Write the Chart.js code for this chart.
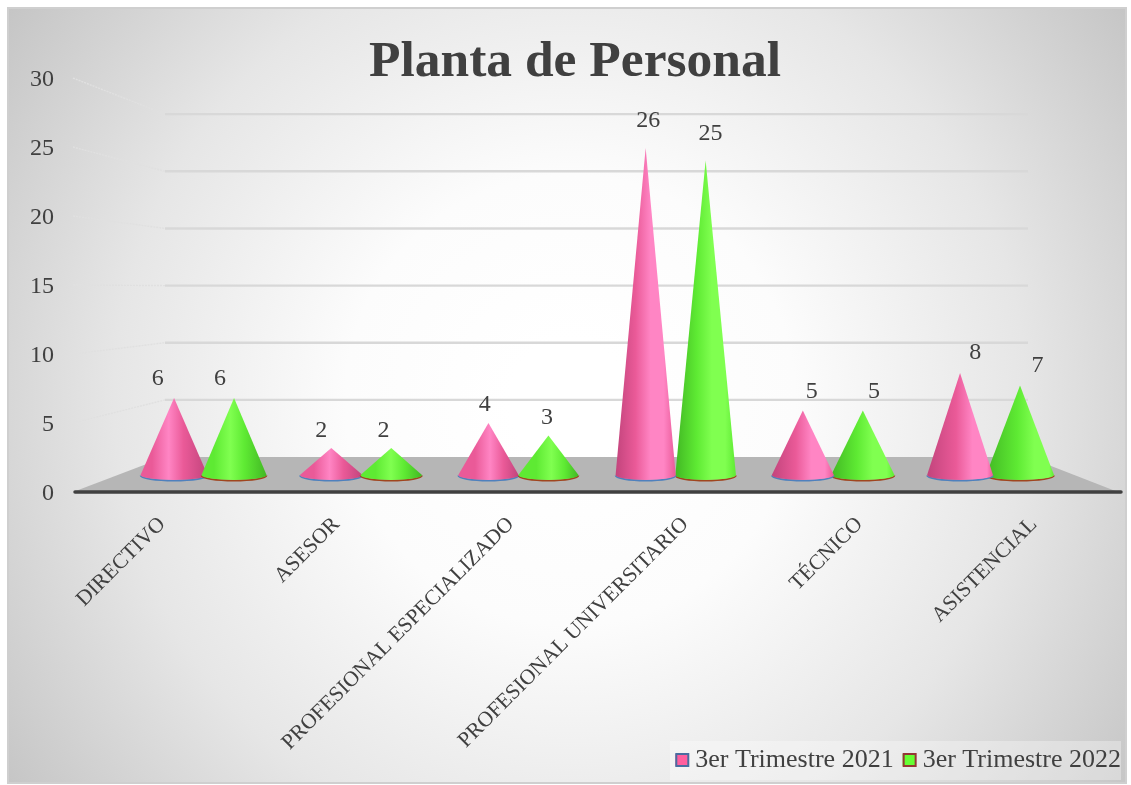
<!DOCTYPE html>
<html><head><meta charset="utf-8">
<style>html,body{margin:0;padding:0;background:#fff}canvas{display:block}</style>
<script src="https://cdn.jsdelivr.net/npm/chart.js@4"></script></head>
<body><canvas id="c" width="1131" height="785"></canvas>
<script>
const categories = ["DIRECTIVO","ASESOR","PROFESIONAL ESPECIALIZADO","PROFESIONAL UNIVERSITARIO","TÉCNICO","ASISTENCIAL"];
const serie2021 = [6,2,4,26,5,8];
const serie2022 = [6,2,3,25,5,7];
const seriesNames = ["3er Trimestre 2021","3er Trimestre 2022"];
const yTicks = [0,5,10,15,20,25,30];
const FONT = '"Liberation Serif"';
const TEXT = '#404040';
const pal = [
 {edge:'#ea5a98',hi:'#ff85c4',dark:'#c2447c',line:'#4f81bd',box:'#ff5f9e',boxLine:'#4a6da0'},
 {edge:'#5eea33',hi:'#80ff50',dark:'#42b824',line:'#a0451f',box:'#66ff33',boxLine:'#953735'}
];
const CX = 583;
const plug = {
 id:'scene',
 beforeDraw(ch){
  const c=ch.ctx; c.save();
  c.fillStyle='#fff'; c.fillRect(0,0,ch.width,ch.height);
  const g=c.createRadialGradient(570,400,60,570,400,720);
  g.addColorStop(0,'#ffffff'); g.addColorStop(.25,'#fcfcfc'); g.addColorStop(.6,'#e6e6e6'); g.addColorStop(1,'#c0c0c0');
  c.fillStyle=g; c.fillRect(8,8,1118,775);
  c.strokeStyle='#cfcfcf'; c.lineWidth=2; c.strokeRect(8,8,1118,775);
  const y=ch.scales.y, b=ch.scales.yBack, a=ch.chartArea;
  const bl=165, br=1028, L=a.left+1, R=a.right;
  yTicks.filter(t=>t>0).forEach(t=>{
    const fy=y.getPixelForValue(t), by=b.getPixelForValue(t);
    c.strokeStyle='#e0e0e0'; c.lineWidth=1.4; c.setLineDash([2,1]);
    c.beginPath(); c.moveTo(L,fy); c.lineTo(bl,by); c.stroke();
    c.setLineDash([]); c.strokeStyle='#d8d8d8'; c.lineWidth=2.4;
    c.beginPath(); c.moveTo(bl,by); c.lineTo(br,by); c.stroke();
  });
  const fy0=y.getPixelForValue(0), by0=b.getPixelForValue(0);
  c.fillStyle='#b6b6b6'; c.beginPath(); c.moveTo(L,fy0); c.lineTo(bl,by0); c.lineTo(br,by0); c.lineTo(R,fy0); c.closePath(); c.fill();
  c.strokeStyle='#404040'; c.lineWidth=3.5; c.lineCap='round';
  c.beginPath(); c.moveTo(L+2,fy0); c.lineTo(R+3,fy0); c.stroke();
  c.fillStyle='rgba(255,255,255,.32)'; c.fillRect(670,741,451,39);
  c.restore();
 },
 beforeDatasetsDraw(ch){
  const c=ch.ctx, items=[];
  ch.data.datasets.forEach((d,di)=>{
    ch.getDatasetMeta(di).data.forEach((el,i)=>items.push({el,di,v:d.data[i].y}));
  });
  items.sort((p,q)=>Math.abs(q.el.x-CX)-Math.abs(p.el.x-CX));
  items.forEach(({el,di,v})=>{
    const p=pal[di], rel=(el.x-CX)/410;
    const w=(el.width+7*rel*rel)/2, ry=5, by=el.base+2, tx=el.x, ty=el.y;
    c.save();
    c.strokeStyle=p.line; c.lineWidth=1.8;
    c.beginPath(); c.ellipse(tx,by+.6,w,ry,0,0,Math.PI); c.stroke();
    const g=c.createLinearGradient(tx-w,0,tx+w,0);
    const t=.56+.14*rel;
    g.addColorStop(0,rel>0?p.dark:p.edge);
    g.addColorStop(Math.max(.05,t-.25),p.edge);
    g.addColorStop(t,p.hi);
    g.addColorStop(Math.min(.95,t+.22),rel<0?p.edge:p.hi);
    g.addColorStop(1,rel<0?p.dark:p.edge);
    c.fillStyle=g;
    c.beginPath(); c.moveTo(tx,ty); c.lineTo(tx-w,by); c.ellipse(tx,by,w,ry,0,Math.PI,0,true); c.closePath(); c.fill();
    c.restore();
    c.save();
    c.fillStyle=TEXT; c.font='24px '+FONT; c.textAlign='center'; c.textBaseline='middle';
    c.fillText(v, tx+(tx-CX)*.04, ty-17-.4*v);
    c.restore();
  });
 },
 beforeDatasetDraw(){ return false; },
 afterDraw(ch){
  const c=ch.ctx; c.save();
  ch.legend.legendHitBoxes.forEach((h,i)=>{
    c.fillStyle=pal[i].box; c.strokeStyle=pal[i].boxLine; c.lineWidth=2;
    const cy=h.top+h.height/2;
    c.fillRect(h.left+1,cy-6,12,12); c.strokeRect(h.left+1,cy-6,12,12);
  });
  c.restore();
 }
};
const toPts = a => a.map((v,i)=>({x:i,y:v}));
new Chart(document.getElementById('c'),{
 type:'bar',
 data:{labels:categories,datasets:[
  {label:seriesNames[0],data:toPts(serie2021),backgroundColor:pal[0].box,borderColor:pal[0].boxLine,borderWidth:0,xAxisID:'xBars',yAxisID:'yCone'},
  {label:seriesNames[1],data:toPts(serie2022),backgroundColor:pal[1].box,borderColor:pal[1].boxLine,borderWidth:0,xAxisID:'xBars',yAxisID:'yCone'}
 ]},
 plugins:[plug],
 options:{
  responsive:false,animation:false,
  categoryPercentage:.9375,barPercentage:1,
  layout:{padding:{left:20,right:1,top:0,bottom:2}},
  plugins:{
   tooltip:{enabled:false},
   title:{display:true,text:'Planta de Personal',color:TEXT,font:{family:FONT,size:51.5,weight:'bold',lineHeight:.56},padding:{top:48.6,bottom:0.6}},
   legend:{display:true,position:'bottom',align:'end',labels:{boxWidth:7,boxHeight:12,padding:9,color:TEXT,font:{family:FONT,size:26}}}
  },
  scales:{
   x:{type:'category',position:'bottom',offset:true,grid:{display:false},border:{display:false},
      ticks:{autoSkip:false,minRotation:45,maxRotation:45,padding:12,labelOffset:3,color:TEXT,font:{family:FONT,size:21.5}},
      afterFit(s){s.height=785-2-s.chart.legend.height-492; s._computeLabelArea=()=>undefined;}},
   xBars:{type:'linear',axis:'x',display:false,offset:false,min:-0.84,max:5.814},
   y:{type:'linear',position:'left',min:0,max:30,grid:{display:false},border:{display:false},
      afterBuildTicks(s){s.ticks=yTicks.map(v=>({value:v}));},
      ticks:{padding:10,labelOffset:2,color:TEXT,font:{family:FONT,size:24}},
      afterFit(s){s.width=52;}},
   yCone:{type:'linear',axis:'y',display:false,min:-1.52,max:31.6},
   yBack:{type:'linear',axis:'y',position:'right',min:-3.06,max:33.16,grid:{display:false},border:{display:false},
      ticks:{display:false},afterFit(s){s.width=12;}}
  }
 }
});
</script></body></html>
